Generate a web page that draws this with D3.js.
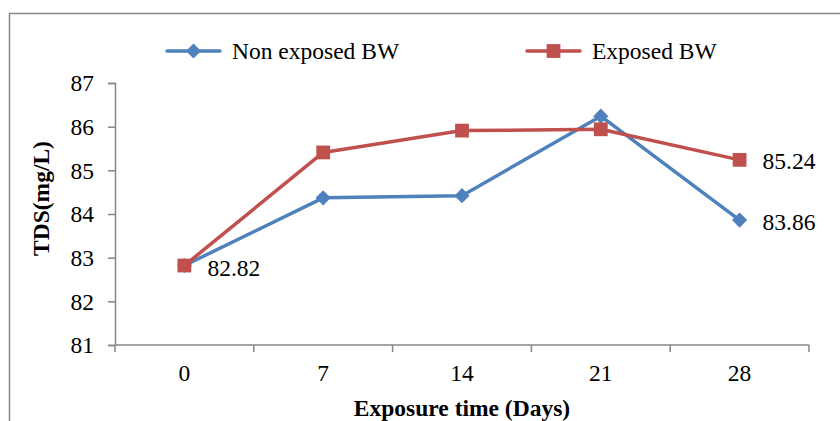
<!DOCTYPE html>
<html>
<head>
<meta charset="utf-8">
<script src="https://cdn.jsdelivr.net/npm/d3@7"></script>
<style>
  body { margin: 0; background: #fff; }
</style>
</head>
<body>
<div id="chart"></div>
<script>
// Dados
const days = ["0", "7", "14", "21", "28"];
const nonExposed = [82.82, 84.37, 84.42, 86.24, 83.86];
const exposed = [82.82, 85.41, 85.91, 85.94, 85.24];
const yTicks = [81, 82, 83, 84, 85, 86, 87];

const W = 840, H = 421;
const margin = { left: 115, right: 31, top: 83, bottom: 76 };
const FONT = "'Liberation Serif', 'Times New Roman', serif";
const FS = "23.5px";

const svg = d3.select("#chart")
  .append("svg")
  .attr("width", W)
  .attr("height", H)
  .style("font-family", FONT);

// Moldura exterior
svg.append("rect")
  .attr("x", 9.5).attr("y", 13.5)
  .attr("width", 840).attr("height", 440)
  .attr("fill", "none")
  .attr("stroke", "#888")
  .attr("stroke-width", 1.5);

const x = d3.scaleBand()
  .domain(days)
  .range([margin.left, W - margin.right]);

const y = d3.scaleLinear()
  .domain([81, 87])
  .range([H - margin.bottom, margin.top]);

// Eixo Y
const yAxis = svg.append("g")
  .attr("transform", `translate(${margin.left},0)`)
  .call(d3.axisLeft(y).tickValues(yTicks).tickFormat(d3.format("d")).tickSize(7).tickPadding(14));
yAxis.attr("font-family", null).attr("font-size", null);
yAxis.selectAll("text")
  .style("font-family", FONT)
  .style("font-size", FS)
  .attr("fill", "#000")
  .attr("dy", "0.33em");
yAxis.select(".domain").attr("stroke", "#868686").attr("stroke-width", 1.5);
yAxis.selectAll(".tick line").attr("stroke", "#868686").attr("stroke-width", 1.5);

// Eixo X (marcas entre categorias)
const xAxis = svg.append("g")
  .attr("transform", `translate(0,${H - margin.bottom})`);
xAxis.append("line")
  .attr("x1", margin.left).attr("x2", W - margin.right);
const bounds = days.map(d => x(d)).concat([x(days[days.length - 1]) + x.bandwidth()]);
xAxis.selectAll(".tk")
  .data(bounds)
  .enter()
  .append("line")
  .attr("x1", d => d).attr("x2", d => d)
  .attr("y1", 0).attr("y2", 7);
xAxis.selectAll("line").attr("stroke", "#868686").attr("stroke-width", 1.5);
xAxis.selectAll(".lbl")
  .data(days)
  .enter()
  .append("text")
  .attr("x", d => x(d) + x.bandwidth() / 2)
  .attr("y", 36)
  .attr("text-anchor", "middle")
  .style("font-family", FONT)
  .style("font-size", FS)
  .text(d => d);

// Títulos dos eixos
svg.append("text")
  .attr("transform", "translate(49,198.5) rotate(-90)")
  .attr("text-anchor", "middle")
  .style("font-family", FONT)
  .style("font-size", FS)
  .style("font-weight", "bold")
  .text("TDS(mg/L)");

svg.append("text")
  .attr("x", 462)
  .attr("y", 416)
  .attr("text-anchor", "middle")
  .style("font-family", FONT)
  .style("font-size", FS)
  .style("font-weight", "bold")
  .text("Exposure time (Days)");

const series = [
  { name: "Non exposed BW", values: nonExposed, color: "#4F81BD", shape: d3.symbolSquare, size: 115, rot: 45, lx: 167 },
  { name: "Exposed BW", values: exposed, color: "#C0504D", shape: d3.symbolSquare, size: 190, rot: 0, lx: 527 }
];

const line = d3.line()
  .x((d, i) => x(days[i]) + x.bandwidth() / 2)
  .y(d => y(d));

series.forEach(s => {
  svg.append("path")
    .datum(s.values)
    .attr("d", line)
    .attr("fill", "none")
    .attr("stroke", s.color)
    .attr("stroke-width", 3.5)
    .attr("stroke-linejoin", "round");

  svg.selectAll(null)
    .data(s.values)
    .enter()
    .append("path")
    .attr("d", d3.symbol().type(s.shape).size(s.size))
    .attr("transform", (d, i) => `translate(${x(days[i]) + x.bandwidth() / 2},${y(d)}) rotate(${s.rot})`)
    .attr("fill", s.color);

  // Legenda
  svg.append("line")
    .attr("x1", s.lx).attr("x2", s.lx + 53)
    .attr("y1", 51).attr("y2", 51)
    .attr("stroke", s.color)
    .attr("stroke-width", 3.5)
    .attr("stroke-linecap", "round");
  svg.append("path")
    .attr("d", d3.symbol().type(s.shape).size(s.size))
    .attr("transform", `translate(${s.lx + 26.5},51) rotate(${s.rot})`)
    .attr("fill", s.color);
  svg.append("text")
    .attr("x", s.lx + 65)
    .attr("y", 51)
    .attr("dy", "0.33em")
    .style("font-family", FONT)
    .style("font-size", FS)
    .text(s.name);
});

// Rótulos de valores
const labels = [
  { i: 0, v: nonExposed[0], dx: 23, dy: 3 },
  { i: 4, v: exposed[4], dx: 23, dy: 1 },
  { i: 4, v: nonExposed[4], dx: 23, dy: 2 }
];
svg.selectAll(".val")
  .data(labels)
  .enter()
  .append("text")
  .attr("x", d => x(days[d.i]) + x.bandwidth() / 2 + d.dx)
  .attr("y", d => y(d.v) + d.dy)
  .attr("dy", "0.33em")
  .style("font-family", FONT)
  .style("font-size", FS)
  .text(d => d.v.toFixed(2));
</script>
</body>
</html>
